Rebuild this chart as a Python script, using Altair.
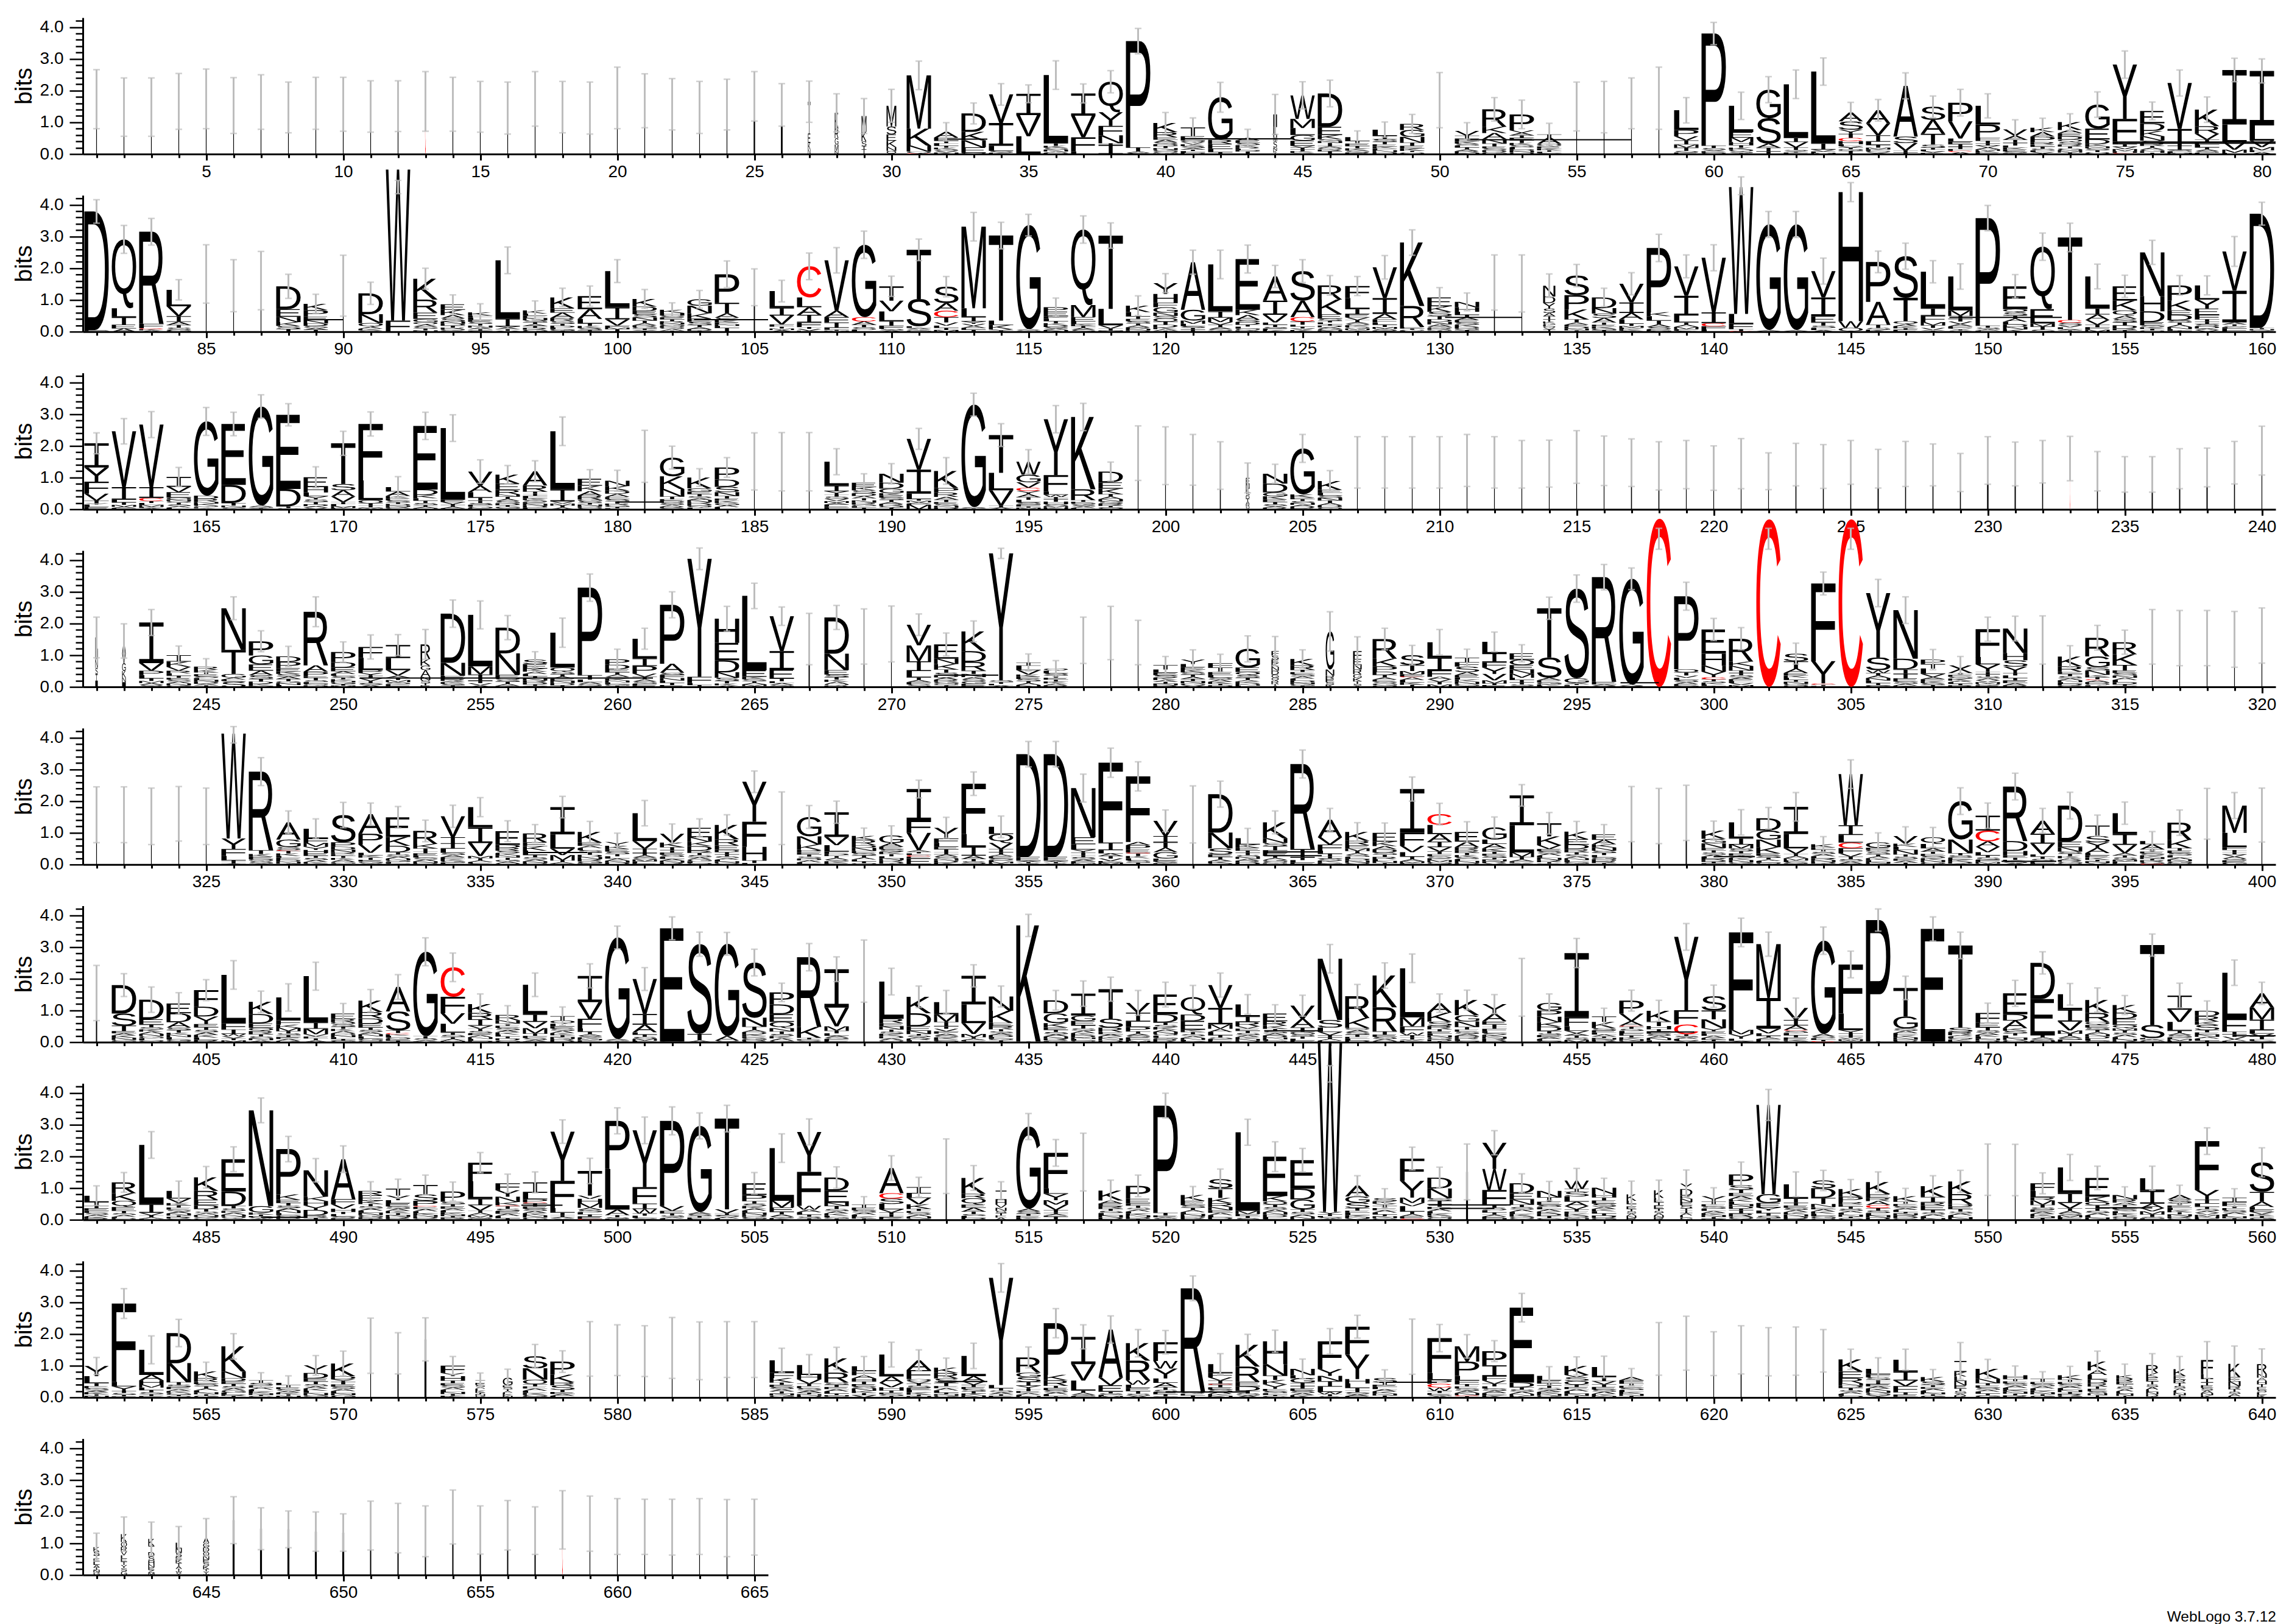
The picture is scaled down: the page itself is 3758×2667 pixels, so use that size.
import glob
import re
import struct

import altair as alt
import pandas as pd

# Each token: letters top-to-bottom with height in 1/100 bit, ~centre of error bar, :half error, @stack width %
ROW1 = """I173:93@3 I148:92@3 I148:92@3 I166:88@3 I174:94@3 I153:88@3 I164:86@3 I147:80@3 I160:82@3 I157:85@3
I150:81@3 I151:80@3 C166:94@3 I157:85@3 I149:80@3 I145:82@3 I174:86@3 I148:81@3 I145:82@3 I177:97@3
I168:85@3 I157:81@3 I147:82@3 I156:80@3 I182:78@6 I155:67@7 T100E30K20N15:65@10 K50R30G20M20N10:60@15 M50K30S15T10I15:55@20 M65S25E20K20N12Q10:52@40
M168K53N19Q6C2:45 A18E10I8L8T6K5S5V5N5:29 D58K27N22E17Q4:33 V90I72L16S6K4:34 I67V67L54T2:28 L215T8K6S6N6A4D4:45 I70V68F45L8:30 Q96Y43F30N25I5I29:35 P335T13A4S4:40 K29R16E8A8S6D6T6N6G5Q5M3:33
T28E13Q6V6K6S6A5I5L5D4:30 G134R13E16L10T6:47 A8E8S7K6R5L5D4T4I4:27 I40L25M20S20N10K5T5:63@15 W74M29L22G18E16V6I6T5K5Y4:43 D105E26K13S6N6T6I5A5Q5R5I9:42 L12T8E8I7K7S6R5:20 L20I10S8T8E7K6F6N6D6:24 R19G22N18T10E8K8I4A2Q4:30 I170:87@3
V15I10E8K7S6L6T6A6R5N4:26 R55K20A19N14T9E6S6D6G6:37 P50V8A8I8E8T8K7S7L6D5N5Q5:45 T10A20Q8E6K6I5L4S3:35 I150:77@3 I148:81@3 I160:80@3 I176:98@3 L62P20V13I13M10T10S5E5:40 P353T8S6A4K3E2Q4:35
L83E17M14H10T8K6Q6S5I3:43 G90S80A13I12T8:41 L169I13V17T8S4Y4F5:45 L226I20V6F4M4:43 A28S26Y13T13C10H10L6V5I5Q5I10:32 A41V38I20L10T9M5F5Q5Y5:34 A160S20V24I6T3L2:41 S41A44T34S10I6L5V5E4:34 P59V54L10E8I8T7F6C4A6:42 L59P41F10T8I7V6A6M5K5E5:38
V20A13I10T8L7K6E6S5F3:30 K14A14P17R8E7T6S6L5V4I2:30 K25A10E10D10Q8S8R6T6G5N4M4I5:26 G76E34D14K8N6S6T6Q6:40 Y171F72L8I8V7M7H5C2N2:43 E39D24K17N14S8R8T6A6G5H5I4:28 V145T52I14S5L4M4:41 K52R24V19I8E8L8T6A6S5F4:40 I172L55V24M10F4:37 I172L48V20M10F6A6:38""".split()
ROW2 = """D374E3N2:37 Q217L28T24E12A10:44 R290F14C3K4A4:42 L52V31I18A10T8S7G6:32 I182:92@3 I145:82@3 I161:92@3 D72E24N17K12S10T8:38 K20P20E12N10D8S6A6T6:30 I145:96@3
D66N28Q12A6K5S4:35 W476F35~456:21 K66R41E20G10Q8A6S6T6N4:33 E17K17A10S10N7D6T6R5Q5G3:30 K10F7L7E6S6T6N6A5I5G3:27 L184I25X8T5V3:42 K10L7E7N7S6T6A6I6R6G6:30 K34E14A17R10S8T6D6L5G5I3:29 E41A31L14T8K7S6I5:32 L114I38V20F6M5T8:36
K24D14E10S10N10T8A7R5G5I5Y5:30 K10H8S6E6T6R5N5G5D5Q5A5I3:22 G20N24K17E10S10T7A6D5I3:28 P90T33A14S8K7E6N5L6I12:42 I140:58@5 L53I24V28F7T6M5A5:34 C98L31A24I24F14T6V6K3:42 V159A20F17I17L6T3M3:40 G228C14A10T8S8L6:43 T45V34L31T14F10S5A4:32
T155S86L5A4V3G5:34 S52A24C20T17V10L7I7M5:32 M257L28I14Y7V7A6F6T6:45 T268L14K14V3I4:42 G328A3S3V2:34 P14E14F8L8T6K6D6S5A5N5:29 Q238M38E14L8K6I6A6S6:43 T231L52V10I7M3:40 K20L14I8E7S7T6A6R5N5D4:31 Y34H28F14G17N10S8O10T10D8K6A5I3:30
A150G34M10L8S5I6T6:38 L148I20M14V8T8A6S6E2:45 E160K17A14S8D8T6L6Q6R4:44 A76I45V24L7T7S5F5K5:35 S93A52C14T10L6I6V5K5:36 R45K46E14S7T5L5I5D5A5G5N4:31 F38L34I17E10V8T7A5S5K5Q5M5Y5:30 V97I50A17F10L7T7M6S6E3:37 K200R66E5T4Q3L3:40 E28K17S14T10D8N8A7G5R5Q3I3:31
N17H14L10T8A8E8S7K7D5Q5I5:28 I155:87@4 I152:90@3 N34D21Y17S14A10I10T7K5G5L5Q5V5I7:37@50 S62P45K31T10A7E6D6N6I4:35 D34N17S14A14T7E6K6G5I5:29 V59I33A20L14T7M5F5K5S3:35 P203K12L14T12A8S8E4M3:43 V93I62L22T7A7M7F5S3:36 V172I34C10F10L7:41
W400L31F17T6C2~460:28 G333A3S2:41 G333A3S2:41 V83I59E20T10S7L7A5:41 H407W21O10T2:30 P126A72T10S6K6:34 S131T74Q10A6K6I5E6:41 L115I24F20M10T8V7Y5:35 L107M17I10T8V8A7F7Y6S4:40 P339T6S6A4L3:40
E72Q10S10T10A10L8D8N8K7:37 Q197E45M10T10S6:43 T260C9S8V6L6A4I4:45 L100I20A17V15T8F8M6:39 E45K31Q17A10S10T10D10R5I5:35 N138H48D34E10S6K5T5Q4:38 P48K31E14D17S7T7A7N7L5I3:31 L45Y28E20F14T8I7S7D7A5V5:30 V124I100A6T5S4L4F10:47 D360T4N4S4:36""".split()
ROW3 = """I76Y45F38V22T8Y4L8E7:33 V176I40L8T8M6A4F4:40 V197I34C10T6L6M6F4A4:41 I31V17E17O6N5Q5T6S5A5L5:30 G234D10R10N5K6Q5E4A3:44 E192D57T8N6S6:37 G312A4S4T2S2:37 E234D55T5S4~298:35 E31H17L12Y10S8T7D6A5V5:33 T128S20A20V17I7L6M6E4:38
F178L62O10T8I5V3M3:38 L14A14K7E7S6T5D5N4R4G4:33 E201D17K10L8T7S7I5A5N3:43 L226E7V7I4T4A5F3:42 V45A20L17I10T7S6F5G5E4:37 K28E20R14N7T7A7S7D6I5G5Y3:29 A45R19T7I7L7K6S6E6N6D6F5:33 L183I38V7M6T6A6:45 E22K17A14R12G5S6T5N5D5Q5:29 N17K14D10A10E7S7T7R5G5I5L3:33
I167:82@5 G59K40N24T8E6D5S7A6R4Q4:36 K34G10E8T7S6A6N6R6D6Q6L5:28 P38D23S17N12T8E7K7G7A6L7:31 I151:90@3 I150:92@3 I150:92@3 L76I17Y10T7S7V7M6A5F5E5F5:41 E14K10S10D8A7T7N7R6G5L5I5:28 N28D19G14K7E7S7T7A6R6Q6I5:32
V97I76L17T5M5A4F4M14:33 K54P14R14A9T7E6S6N6D5:42 G323A2S2T3:36 T119L55V48I6A6:36 W41G24V17C10Y10A10T8L8S7F6I4M5:38 Y176F52L10W7I7T8H8S6M5N5:43 K228R34T5E5Q5S5A5L4:43 D34E20K17T8A8N7S7R7I5G3Q3:30 I177:86@3
I169:91@3 I156:80@3 I138:75@4 E20N14K12S10D10T8A8R7G6V4:47@15 N31D28G12K10E8T7S6A5R5:30 G145K10E5T6S6N6A5D5R4:44 K28E9L8S8N8T8A7D7Q6:33 I148:81@3 I148:81@3 I148:81@3
I148:81@3 I154:82@3 I148:81@3 I142:75@3 I144:74@3 I165:83@3 I153:78@3 I147:75@4 I137:76@4 I141:76@3
I130:70@3 I144:79@3 I120:58@3 I141:67@4 I135:69@4 I148:69@4 I128:61@5 I143:71@4 I140:66@4 I116:60@4
I154:75@6 I143:69@5 I150:67@4 C160:70@2 I120:62@4 I110:56@5 I110:56@5 I128:63@5 I132:61@5 I147:67@4 I185:77@3""".split()
ROW4 = """L40M30N26S20T20I20:64@10 A40V30G25K20N15I15:54@15 I128V24P14L10T8M7A6S6:41 I20K17V12R8L8T6E6S6A6N6G5:29 R10K8T6E6S6L6N6D6A5I5:25 N131T76G12A6L4S3S16:36 P45G28E20A14S12T8D7K7N3:33 D17P20E10K8S8A8T7G6N6L6:32 R169A20P14E5T8S6L5Q5D5:47 P32D17E12A8L6S6T5K5N5G5I5M4:32
F34L38P10Y9T8V8I7S6A6:38 I41L38V17A7T7M7S6F6E3:33 R46K21G14A21N10S10T7E5:47@40 D155N41E10R6A4K5S5T5:43 L162M26I20T7V7A5:44 D81N68E10Q6S5T7A7K3:38 S14E14K10A7L7T7N7R6D6I5G3:25 L110Q14S7T7A7E7N7D7I5:46 P276T14L8A6S6E3:43 P17D14E10T7A7S6K6N6L5G5I4:32
L62I24P24V10T8A7S7F5E5:33 P186A28S7F10N8L7T7E6:41 Y372F20L6I6:34 H76E55D38N17S10T8K6A5:39 L235E20K8S6T5A5M5I3:40 V110I59E28T8L6A6S4M2:29 I151:81@5 D114N52E14S8T8K7A7Q5R4:38 I159:87@3 I167:88@3
V65M50I31L20T8A7F7S8:34 E45N17K17T10S8D7A7R7G6Q5I5:36 K62D34R28T10N10A7S7G7E5E5:33 Y400S6T5L5A5~421:16 I10L14V14K7E7S7T6A6N6:27 Q7L8S7T7E6I6K6A6R5:25 I147:73@3 I170:84@3 I140:70@3 T14L10E8S8K7A6I6N5R5:27
Y14L10E8K8S7T7A7I7N7G6V5:31 F14T14E10L7S7A7K6I5D5:28 G59E14Q10S8T7A5K5D4N4L4:41 F14S12E12K12N12D12G10Q10R10T5A4:46@30 K20R14T7E7S7A7L6D6N5G5I4:29 G120N20R10E10S8K7:62@35 F25E18N15R15G12K10T8S6A4:45@35 R62K24P17D10T8A7E6S6G6Q5:34 S31T19M10E7C3A8L8K7I7:31 L48I41F20A8V8T8M8:40
T14F14S17A10E7L7K7N7G6I3:27 L36I28F17Y20V20M10T5E6:31 E20O17E14N14M12L7I7T7S5G3:27 T155S64A8E7G6K4L4:35 S283G14A4T3L3L3:43 R330E8A4S2L2:40 G334A3S2T2:34 C530~467:33 P230O10T10V7L7S7A6E6M3:44 E76H38N19Y17C7T6S5K5L5I3:35
R72K14N14I8T7S7A6E6L6V6M6:35 C528~467:33 S24T23A14E8K7L7I6N6G5Q5:33 F245Y70C4T4L3:36 C528~467:33 Y203S40W9T8A8N8L8I7G5:43 N153D34I14T14E10S7A6K4:42 P14T14L17V10A7E6K6S6I6:32 X24T6E6S6K6A5L5I5R5:28 F88L23Y24I7T7S6A6V6M5Q5E5:38
N77H23S20Y20T8L8I8E8A7R5:39 I148:76@5 K31R17E7T7S7A6N6L5D5G5:34 R59G34S10N14K7T7C3A6D5Q5L5:39 R38K34T17E8S8N7A7L7D7I5Q3:38 I158:86@3 I154:87@3 I154:87@3 I150:88@3 I162:87@3""".split()
ROW5 = """I157:88@3 I157:88@3 I152:89@3 I160:86@3 I152:89@3 W331Y33F22L14T5I5A3~409:26 R248T12K8E8Q7S7A3:44 A54G24S9C3T8K8L6E6D6N6I3:36 L31F14M12Y10H10E8T7S7A6K5Q3:31 S86P14D9N8R6E6T6K6A6G6L3:40
A62P34V26L8K7T7E5G5S5:35 E62K28D20T7S7A6N6G5L5Q3:34 R41K14T9I7E7L6S6A6N5D5:34 V66T19I17L13S7A7E6K6G5F6:35 L63I50V41M7T7A5F5S3:30 E43D9R9S8K7N7T7G6A5Q4:33 R28E12K14L14T7S7A6N5D5:28 I86L45V20M17T5A5F3:34 K34E10A7L7S7T7D7N7R7G6F4:33 Y12K10E8S8T7L7A7N6D6:28
L88V24I14T7A7S6M6F5E5:40 V28K14I10T7E7S7L6A6N6R6:31 E30N14K14D14R7T7S7A7G6L5Q5:28 K45R20E14D7I7T6S6A5L5N5Q5:32 Y126F79H43T8L5:34 I146:83@3 G61N26K17P7E7T7S6D6A6L5Q2:36 I78V26L20F7P7T6A6S5K5E5:35 K12R17D8N10E7S7T7A6L6I6Q4:25 G24A12E8S8K7T7L6N6R6D5I3:30
I100F38V55A5T5L5C5E5E20:28 Y34F14L12E8T8I8A7S7N6D6K6:33 F159L40I28A10T8S8E2:37 L23Q28V19I10T7A6E6S6F5M5K4:34 D324E12A4T4S4:40 D324E12A4T4S4:40 N155E22L17Y10T7I7S7A6F6M4:44 F252I24L10A8T8V8E5M6:46 F207A10P14E9C3T8K7L7S7I6:46 V48I20T17A14G20L5E5S5K4:34
I158:90@3 D121N50S19E8T8A6K6Q4:41 L20K10E9I7T7S6N6A6R6D6:31 K50N15S10I14L8E8T7A6G6Q5D4:36 R268I27T8L8E6:44 A55V23F19L10T8I7S7K5E4M3:36 K28R14E10M8T7A6S6L6D6N6Q6:29 E28K14A10D10S7T7R7L6N6I5:31 I138F41V20L14T8A7M5E5:38 C34L29A24I17V14T8F7S6E6M6G5Q3:34
E31A17R10R8T7K7S6L6N6D5:32 G38L14A14K10T7E6S6I6N6R5V5:33 I94L86M14T8A6F4V3E3:34 T41K28V12E7S7A7L7N7R6I5G3:34 K24E17D14R10T7S6A6N6L6G5I3:32 E17A14K10N10S7T7L7G6D6R6I5:31 I159:87@5 I153:87@5 I163:87@5 K26G14N15E7T7S7A6L6R5D5I5F4:30
L50I20M12S9T7E7A7K7N7G4Y3:40 D39G28N24K20E7S6T6A5L5Q5R1:34 I86L45V17T7A7M7F5S5E3:45 K10E7T7S7A7L6R6N6D5I3:24 W161I31L24C17F17V10T8S7A7Y3:45 G17E7Q7S7T6A6K6L6N5D3:30 V24K10L10N14T7S7E6A6I6:29 Q21L14A10T7E7S7K6N6G5R3:31 G121N43T7S7E7K7D5A3:42 I47C34A17V17L10T7S7F7M5G3:40
R172D31H14E7T7K5S5A5:42 A41I31V34L7T7S7E6F5:39 D114E17N14S7T7K7A6R5G4Q5:42 T33S20Y17A17L7E7K7I5N5V5:33 L66I34V26A7T7S7M5F5E5:35 L10A16T7E6S6K6N5I5R5G5C3:30 R54K26T8E8S7L7A6N6G6D4:40 I160:80@5 M86L45F9T7I7V7A6S6E6G7:41 I156:85@3""".split()
ROW6 = """I155:87@5 D90S38T17E7A7K7N7G5L2:36 D62E17T8S7K7A7N7G7L6Q6:40 E31D28A17S8T8K7N7L7G5Q4:34 F52D31Y24E10T8S8A8K8L8R7:33 L152F20I14W7V7T6M6:45 K38D30E14Q10R10T7S6N6A6:34 L72F14K10M10T7S6I6E6A6R4:43 L146I20M17V7F6T6A6:44 E17R10Q7S7T7K7A7D6N6L6I5G5:32
K36R20D17E12T7S7A7N7L7G6Q5:35 A77S60T8C4K5L5G5E5I5:39 G266T7S6A4L2:44 C93F52V33L28T7S7I6A6M4:45 K28R20I20V10T7S7E6A6N6L6D4:32 R17N10T7E7S7A7K7L6I6D6G6:29 L93I24V20M17T7F7S6A5K2:37 T14Q10L8E7S7A7K7I6N6R5D5:29 I83V52F31L10T8A5S5K5M4E6:38 G320A4S4T2:36
V110I34A24L7T7S7M5F5:36 E357G2:36 S283T20A6~309:38 G291A14S5:36 S174N28T10A7D7K6E6G6R4Q3:42 P38D31E24Q20N10T8S7K7A7G5:29 R220K34T5E3Q3S3:43 I121V59M14T8L8A5S5F5E5:39 I224:98@5 L117R14E10N10T7S7K7D7A6Q6:42
K52D41E14N10T5S5A5R5L4G2:34 L38M24I14T8V8F7A6S6K6E5Q4:37 I90L59V34M10T5A5F3S3:35 N45K38E10R10T7S6A6D6L5Q5I6:33 K366T2:35 D41G31K14E7T7S7A7N7R5Q3L3:31 I69G17E14T10S7A7K7D7N5L5Q5:40 T93S28R14E7A7K6N6D6:38 V31I28L17P14T7A6S6E5F5M5:39 E62D26T8S7K7A7N7Q6L6G4R10:39
Q55D20E28K7T7S6A6N6L4G3:37 V72I52M14A10L10T7S5F5E5:38 L38I17R14V7E7T7S7A6K6N6D4:31 E24R14K10T7S7A7D6N6L4G5:28 V41A28I14G7S7T7L6E5:33 N193S24L14V10I7T5A5E5:45 R69K31Q7A7S7T7E6L6D5:37 K100R76T10E7S7A6Q4:40 L155M28F20W8T7I7V3E5:45 A30K28S14R10T7E7L6N6G6D6I3:29
K48G20N17T8E7S7A6D6R5L5Q4:31 Y30A24E10T7I7F7L6S6K6N6R6D5:30 I173:91@5 G24P20N17K14D14T7S6E6A6L6Q4:28 I203F28L14V8A7T7S7M7:46 T17K20S7E7L6A6I5N5R5G3:26 P41V24A14C3T7S7L7E7I6K6N5G4:33 K34T14H10I7E7S7A7N7L6:33 Y231F45C31T5S5A5L5V5:42 S45T28N28Y10E7L7A7K5I5F3:35
F307M14Y14L7A4:45 M170I97V14L8T5A5F5E5:38 V38I17A14C3S7L7T7E7K4G4:31 G294A8S6L5T4C3:43 F155L52Y10T8I6V5M5S4:42 P383T2:35 T90G38S7A7E7K7N7D5Q3:37 E355T2:38 T259S14R10A4L5Q5K5E3:42 F31E14T10S7A7K6L6N5D5Q1:31
E66D20A24K8S8T7L7N7G7:41 D114E114T7A5S5N5:35 L48I38V28M10T7A7S5F5E3:34 K41R28Q10E8S7T7A7N7D7L6G5:38 K24D19E20Q10M7T7S7A7L6N6R4:30 T252S41L4A4G5:35 I45V38L28T7A7S7F5M5E5:39 D17R17K10S17T7E7N7A6L6I5:31 L145F41I8T8V8A5E4:40 A45M38I34L10V10T8F5S4:35""".split()
ROW7 = """L20T12I8E8F6S6A6K5R5:31 R34K24Q20E12T7S6A6L4D3G2:31 L186I28V8T6A5F3:42 L24V14K7T7E7S6A6N6I5R5G4:31 K43R28E17D12T8S6A5N5Q5G5:34 E102D45T8S8K6A6N6Q6G4:39 N302G20K7T4E4S4A4:39 P143K17E10T8S8A8N8L6G6D6G3:40 N83K14H14Y14D17R8T6:37 A126F16V14H10T7L7S6E5:42
R14E17K10T7S7A7L7N7G7D5I3:29 T22Y14L10E10S7A7K7I6N6R6G3:30 T30S20P16C3E7A7L6K6N6D5G4:31 P32S8T7E7A6L6K6N5I5R4G3:30 F59L55I20V17T7A7M7S5E3:32 F22Y20N17K10C3T8S8E8A7L7I5:29 I33L20P10C3T10E7S7A7K7N7G7:33 Y155F86L14T8I6A4V3S2:37 T78V10H14M14A7S7L7I7E7C3:40 P152L128A17T7S5E3:41
Y179F52I17W14T7L7S4A2:42 P269V15E8T6S6A4L4:44 G272A6S6T5E4L3:41 T286V12I6S6A5L4:42 E37P19T8S8K7A7L7N7D6G6Q3:34 L166M21E14T8A7S5K5:45 Y126F107W12A8L8T6S6I4:41 D41E38N10T10S7A7K7L5G4I4:34 T10E8S7A7L6K6I4:25 A79C17S17L17V10T7I7E5K4:39
I20L14V20K14T7E6S6A6N6G4:31 I169:86@5 K50R14Q20E10A12T8S6L6D4G2:39 I30H14V10N10S7T7E7A7:28@45 G259A8S8T6E6K4L3:41 F112L17Y20M14V17T8I5A5E3I10:42 I182:91@3 K31A10E8R8T7S7L7N7D5G2:33 P41E14F7T7S6A6L6K6N6D5I3:34
P338T8E6A4S2S2:39 K18E14S8T7A7L6N6D6R4G2:27 S28T31K17R12N10E8A7L7D6Q2:32 L248M10E6T6S6:41 E124K17O10T8S8A8N8D8L6G2:47 E90D34G31T8S8A7N7K3:37 W535Y8T5L4S4A4~460:26 A34G20S17T8E7L7K7N4V4:31 S10K7Y7T7E7A7L6I6N6G5:30 F70Y53M17V10L17T8A7E7C4:36
D34N31S8I12T7E7A7L7K7G7Q6:33 I151:88@8 Y83W66F48T8S8L7I7A6E5H5:38 D31E20N16T8S8A7L7K7G5Q5I1:30 N20T14E10S7L7A7K7D7I7G5:30 W26I10S14L17A14V10T7E7K7Q7N5:38 N20H10T10E10S10A7K7L7I7D7G6:30 K20L10I8E8T7S7A7N7R6:42@40 K24L14I10E10T7S7A7N7R7:32@40 Y17D21K10N10E10S10T8I7A7L7G7:43@50
Y17T8E7S7L7A7K6N6I6R3:27 P34S14T10E10A10K8L8N7D7I5I10R10Q10:39 W281G28E14Y10L8T8S8T5:49 L45I14T8E7S7A7K7N7D7R3:39 S24D31T19N10E7A7K7L7G7Q5:32 K24P17R7E7T7S7A6L6N6I5G5:30 K38E12R10A12C10T8S8L7N7D6I1:32 K17T7E7S6A6L6I5N5R5D5G5:25 K34I17R10E14T8S6A6L6N5:33 K40R32D7E8T8S6A6L6N6G2:35
I158:81@3 I157:81@3 F24L20R10M14T8S7E7A7K7N5I6:33 L81I31V17T8A8S6M6F4E4:41 E59K17O10I10T8S7A7L7N5D2:37 N14R10A7T7E7S6L6K6I5G5Q5:26 L40I40A14V10M10T8S5F4:38 A14S12T7E7L7K7I7N6R6G5:31 F154Y31I12L10T7S6A6V6M6N6E4:42 I14F12T7E7S7A6L6N6I5:28 S93T31A17L8E7V7K6I6G6:46""".split()
ROW8 = """Y32L22T9E7S7A6K6I5N5:27 F247L14Y14T7S6I5E3:47 L79A17H14M9L8T7S6I6E4:44 D95N60T8S7E7A6K6G6I4Q4:43 K21R12E7S7T7A6L6N6I5G5:29 K79N21D10E8T7S7A7G7L6R4I5:40 T8S8E7A6L6K6N5I4G4:24 L7T7E6S6A5K5I5N5:22 Y24D17E10T8S7A7K7L7N7G5R2:31 K40D10Y8T8E7S7A7L7N6G7:39
I163:87@3 I139:65@5 I183:68@8 F23Y10H14T8E7S7A7L7N6I6K5:29 T8E7S6A6L6K6I5N5G5:23@40 G24E6S6T6A5L5K5N5:27@40 S38N36O14T7E7A7L7K6G5R3:37 P41K24R10S14T7E6A6L5:34 I153:86@3 I149:80@3
I146:80@3 I156:96@3 I147:91@3 I151:88@3 I151:88@3 L39F17K14T7E7S7A7I7N6G6:38 L31H14V14T7E7S7A7I5N5D5:33 K45R31S7T7E7A7L7I5N4G3:35 L14F14A10H10T8E7S7N7K7I7V7:31 L69A20V14H10T7E5S5I5:39
A31F28O7V7T7S7E7L7K7I5N4:33 K17R17S14T10E7A7L7I5N5G5:30 L64A17V10T7E7S7I7K6N6:40 Y338L10T7S6A6I5E5:45 R48G14S15I12Y10T7E6A6L4N4:33 P163K17R17T7E7S7A6L6I2N2:46 I86V52L31T7A7S4F4:38 A152V24E20T5S5L4M4:43 K55R62W14L10E10T8S7A5:43 F59W24Y31L14A14T8S7E7I7G3:37
R326Q6E6T6:39 L28F14V10I10C3T8E7S7A7K6N5:33 K69R48E14D14T8S7A6:33 H72N36T14K14Y14E7S7L5I4G4:35 N20L10G14I10T8E7S7A7K7:31 F88Y21N17I17L17W7T6S4:40 F88Y77H14L14T7I7S6A6E4:36 S14T7E7L7A7K7N6I6:26 I160:87@5 F110L22P12C12W10T7E6S4A4:43
M48P45L14F12T7E7S7A7N7C3I4:37 P45I34F14V10T8L7S7A7E7K7:33 E236D15T7S7A7N6K5:45 L14E10I7T7S7A6K6N6G5:29 K28V7S12O12T7E7A7L7N7I5:29 L31I14V10T8E8S7A7K7N4:34 A10F10T7E7S7L6K6N6I5:27 I153:83@3 I171:85@3 I138:69@3
I150:76@4 I144:76@3 I146:76@3 I147:67@3 K38E21R17N7D7T7S6A6L6Q5:32 L17F10S7T7I7E7A7K7N7G7Y7:35 L38I28V17F20T7E7S2:33 K14S10T7E6A6L6N5I5G5:24 I35K14L14N14E10T8S8A6R6:58@50 K31N14T7E7S7A6L6I6G6:30
H12T7E7S7A7L6K6N6I6R6:29 T10E7S7A7L6K6N6I5G5:22 K14T7E7S7A6L6N6I6R6G5:28 K28A14L14D12R10T8E8S6N6I7:33@80 K10R10E8T8S8A7L7N7I5:35@70 R25K14E12T10S8A8L8N7D7I3:36@50 K21E12R10T10S8A7L7N7I5G2:40@50 F45L14I12T9E8S8A8N7K7:58@50 K42E14N14R10T8S7A7L4:56@50 R31N12A10H10T9E9S8L8K8:48@40""".split()
ROW9 = """K14S12T10E10L10A8I8N8G8:44@25 K25O15R15V12L10E10T10Y10S10G12:54@25 K22T20D14S12H12N10E8Z8M8:53@25 L18N14S12E10K10T10A8I8W6Y6:51@25 A18G14D14O12N12E10S10K10T8Y8W3:59@25 I173:74@8 I146:66@8 I144:58@8 I137:62@8 I134:59@8
I156:77@5 I148:78@5 I138:80@5 I183:85@5 I142:76@5 I157:78@5 I140:75@5 C174:92@3 I162:87@3 I153:88@3
I152:87@3 I151:88@3 I153:88@3 I148:90@3 I151:88@3""".split()

ROWS = [ROW1, ROW2, ROW3, ROW4, ROW5, ROW6, ROW7, ROW8, ROW9]

# Hair-line strokes that cross neighbouring columns: (first column, last column, bits)
LINES = [(32, 33.5, .47), (40.6, 44.7, .48), (51, 57, .45), (74.7, 80.5, .38), (74.7, 80.5, .34),
         (88.7, 90, .38), (102.8, 105.5, .38), (130.2, 133, .45), (148.6, 152.7, .45),
         (180, 181.7, .23), (250.6, 261.3, .28), (271.7, 273.9, .37), (296.6, 298, .13),
         (336.6, 338.9, .38), (363.6, 365.7, .4), (363.6, 365.7, .28), (380, 381.5, .25), (390.5, 392.5, .1),
         (443.6, 445.7, .36), (457.7, 459.3, .32), (479, 480.5, .2),
         (487, 488.6, .08), (496.5, 498, .46), (529.6, 532.6, .47), (530, 532, .36), (554, 556, .38),
         (591.7, 593.5, .5), (600, 603, .17), (607.8, 609.9, .48)]

ROW_COLUMNS = 80
COLUMN_PX = 45.0
GLYPH_PX = 40.0
HEIGHT = 224
YMAX = 4.3
PX_PER_BIT = HEIGHT / YMAX
ERR_GREY = "#bdbdbd"
FONT = "Liberation Sans"


def load_glyphs(letters):
    path = None
    for root in ("/usr/share/fonts", "/usr/local/share/fonts", "/usr/share"):
        hits = glob.glob(root + "/**/LiberationSans-Regular.ttf", recursive=True)
        if hits:
            path = hits[0]
            break
    data = open(path, "rb").read()
    n = struct.unpack(">H", data[4:6])[0]
    tables = {}
    for i in range(n):
        rec = data[12 + 16 * i:28 + 16 * i]
        tables[rec[:4].decode()] = struct.unpack(">I", rec[8:12])[0]
    long_loca = struct.unpack(">h", data[tables["head"] + 50:tables["head"] + 52])[0]
    cmap = tables["cmap"]
    count = struct.unpack(">H", data[cmap + 2:cmap + 4])[0]
    sub = None
    for i in range(count):
        pid, eid, off = struct.unpack(">HHI", data[cmap + 4 + 8 * i:cmap + 12 + 8 * i])
        if struct.unpack(">H", data[cmap + off:cmap + off + 2])[0] == 4:
            sub = cmap + off
    segx2 = struct.unpack(">H", data[sub + 6:sub + 8])[0]
    seg = segx2 // 2
    ends = struct.unpack(f">{seg}H", data[sub + 14:sub + 14 + segx2])
    starts = struct.unpack(f">{seg}H", data[sub + 16 + segx2:sub + 16 + 2 * segx2])
    deltas = struct.unpack(f">{seg}H", data[sub + 16 + 2 * segx2:sub + 16 + 3 * segx2])
    ro_pos = sub + 16 + 3 * segx2
    ranges = struct.unpack(f">{seg}H", data[ro_pos:ro_pos + segx2])

    def gid(code):
        for i in range(seg):
            if starts[i] <= code <= ends[i]:
                if ranges[i] == 0:
                    return (code + deltas[i]) & 0xFFFF
                p = ro_pos + 2 * i + ranges[i] + 2 * (code - starts[i])
                g = struct.unpack(">H", data[p:p + 2])[0]
                return (g + deltas[i]) & 0xFFFF
        return 0

    def offset(g):
        loca = tables["loca"]
        if long_loca:
            return struct.unpack(">I", data[loca + 4 * g:loca + 4 * g + 4])[0]
        return 2 * struct.unpack(">H", data[loca + 2 * g:loca + 2 * g + 2])[0]

    out = {}
    for ch in letters:
        p = tables["glyf"] + offset(gid(ord(ch)))
        nc = struct.unpack(">h", data[p:p + 2])[0]
        p += 10
        end_pts = struct.unpack(f">{nc}H", data[p:p + 2 * nc])
        p += 2 * nc
        p += 2 + struct.unpack(">H", data[p:p + 2])[0]
        total = end_pts[-1] + 1
        flags = []
        while len(flags) < total:
            f = data[p]
            p += 1
            flags.append(f)
            if f & 8:
                flags += [f] * data[p]
                p += 1
        coords = []
        for short, same in ((2, 16), (4, 32)):
            v, vals = 0, []
            for f in flags:
                if f & short:
                    d = data[p]
                    p += 1
                    v += d if f & same else -d
                elif not f & same:
                    v += struct.unpack(">h", data[p:p + 2])[0]
                    p += 2
                vals.append(v)
            coords.append(vals)
        xs, ys = coords
        contours, s = [], 0
        for e in end_pts:
            pts = [(xs[i], ys[i], flags[i] & 1) for i in range(s, e + 1)]
            s = e + 1
            expanded = []
            for i, a in enumerate(pts):
                b = pts[(i + 1) % len(pts)]
                expanded.append(a)
                if not a[2] and not b[2]:
                    expanded.append(((a[0] + b[0]) / 2, (a[1] + b[1]) / 2, 1))
            first = next(i for i, q in enumerate(expanded) if q[2])
            contours.append(expanded[first:] + expanded[:first])
        out[ch] = (contours, min(xs), max(xs), min(ys), max(ys))
    return out


GLYPHS = load_glyphs("ACDEFGHIKLMNOPQRSTVWXYZ")
# Serifed capital I of the reference's face (the installed sans has a bare bar).
BEAM = [(0, 0), (100, 0), (100, 10), (58, 10), (58, 90), (100, 90), (100, 100), (0, 100), (0, 90), (42, 90), (42, 10), (0, 10)]
GLYPHS["beam"] = ([[(x, y, 1) for x, y in BEAM]], 0, 100, 0, 100)


def glyph_path(ch, w, h):
    if ch == "I" and w > 6:
        ch = "beam"
    contours, x0, x1, y0, y1 = GLYPHS[ch]
    fx = lambda v: f"{(v - x0) / (x1 - x0) * w - w / 2:.1f}"
    fy = lambda v: f"{-(v - y0) / (y1 - y0) * h:.1f}"
    parts = []
    for pts in contours:
        parts.append(f"M{fx(pts[0][0])} {fy(pts[0][1])}")
        i = 1
        m = len(pts)
        while i <= m:
            a = pts[i % m]
            if a[2]:
                parts.append(f"L{fx(a[0])} {fy(a[1])}")
                i += 1
            else:
                b = pts[(i + 1) % m]
                parts.append(f"Q{fx(a[0])} {fy(a[1])} {fx(b[0])} {fy(b[1])}")
                i += 2
        parts.append("Z")
    return "".join(parts)


def parse_token(tok):
    width = 100
    half = 0
    centre = None
    if "@" in tok:
        tok, width = tok.split("@")
        width = int(width)
    if ":" in tok:
        tok, half = tok.split(":")
        half = int(half) / 100
    if "~" in tok:
        tok, centre = tok.split("~")
        centre = int(centre) / 100
    letters = [(a, int(b) / 100) for a, b in re.findall(r"([A-Z])(\d+)", tok)]
    return letters, half, centre, width / 100


def build_row(index, tokens):
    first = index * ROW_COLUMNS + 1
    glyph_rows, err_rows = [], []
    for k, tok in enumerate(tokens):
        col = first + k
        letters, half, centre, width = parse_token(tok)
        total = sum(h for _, h in letters)
        base = 0.0
        for ch, h in reversed(letters):
            glyph_rows.append({
                "x": col, "y": base,
                "path": glyph_path(ch, GLYPH_PX * width, h * PX_PER_BIT),
                "color": "#ff0000" if ch == "C" else "#000000",
            })
            base += h
        mid = centre if centre is not None else total
        err_rows.append({"x": col, "lo": max(mid - half, 0), "hi": mid + half})
    return first, first + len(tokens) - 1, pd.DataFrame(glyph_rows), pd.DataFrame(err_rows)


def row_chart(index, tokens):
    first, last, glyphs, errs = build_row(index, tokens)
    xscale = alt.Scale(domain=[first - 0.5, last + 0.5], nice=False, zero=False)
    yscale = alt.Scale(domain=[0, YMAX], nice=False, zero=True)
    x_axis = alt.Axis(
        values=list(range(first, last + 1)), title=None, grid=False,
        labelExpr="datum.value % 5 == 0 ? format(datum.value, 'd') : ''",
        labelFont=FONT, labelFontSize=28, labelColor="black", labelPadding=5, labelAngle=0,
        labelOverlap=False, labelFlush=False, tickColor="black", tickWidth=3, domainColor="black", domainWidth=3,
        tickSize={"condition": {"test": "datum.value % 5 == 0", "value": 10}, "value": 6},
    )
    y_axis = alt.Axis(
        values=[round(0.2 * i, 1) for i in range(22)], title="bits", grid=False,
        labelExpr="abs(datum.value - round(datum.value)) < 0.01 ? format(datum.value, '.1f') : ''",
        labelFont=FONT, labelFontSize=28, labelColor="black", labelPadding=10,
        labelOverlap=False, labelFlush=False, labelBaseline="middle",
        tickColor="black", tickWidth=2.5, domainColor="black", domainWidth=3,
        tickSize={"condition": {"test": "abs(datum.value - round(datum.value)) < 0.01", "value": 22}, "value": 12},
        titleFont=FONT, titleFontSize=39, titleFontWeight="normal", titleColor="black", titlePadding=6,
    )
    X = lambda f: alt.X(f, scale=xscale, axis=x_axis)
    Y = lambda f: alt.Y(f, scale=yscale, axis=y_axis)
    glyph_layer = alt.Chart(glyphs).mark_point(filled=True, size=4, opacity=1).encode(
        x=X("x:Q"), y=Y("y:Q"),
        shape=alt.Shape("path:N", scale=None),
        color=alt.Color("color:N", scale=None),
    )
    stems = alt.Chart(errs).mark_rule(color=ERR_GREY, strokeWidth=3).encode(x=X("x:Q"), y=Y("lo:Q"), y2="hi:Q")
    caps_hi = alt.Chart(errs).mark_tick(color=ERR_GREY, orient="horizontal", size=11, thickness=2.5).encode(x=X("x:Q"), y=Y("hi:Q"))
    caps_lo = alt.Chart(errs).mark_tick(color=ERR_GREY, orient="horizontal", size=11, thickness=2.5).encode(x=X("x:Q"), y=Y("lo:Q"))
    layers = [glyph_layer]
    strokes = pd.DataFrame([{"a": a, "b": b, "y": y} for a, b, y in LINES if first <= a <= last])
    if len(strokes):
        layers.append(alt.Chart(strokes).mark_rule(color="black", strokeWidth=2).encode(x=X("a:Q"), x2="b:Q", y=Y("y:Q")))
    layers += [stems, caps_hi, caps_lo]
    if index == len(ROWS) - 1:
        layers.append(alt.Chart(pd.DataFrame({"t": ["WebLogo 3.7.12"]})).mark_text(
            font=FONT, fontSize=24.5, align="right", baseline="alphabetic", color="black",
        ).encode(x=alt.value(3601), y=alt.value(300), text="t:N"))
    return alt.layer(*layers).properties(width=COLUMN_PX * (last - first + 1), height=HEIGHT)


chart = alt.vconcat(*[row_chart(i, r) for i, r in enumerate(ROWS)], spacing=67.7, bounds="flush").properties(
    padding={"left": 12, "top": 12, "right": 10, "bottom": 10},
).configure_view(stroke=None)

chart.save("out.html", embed_options={"renderer": "svg", "actions": False})
